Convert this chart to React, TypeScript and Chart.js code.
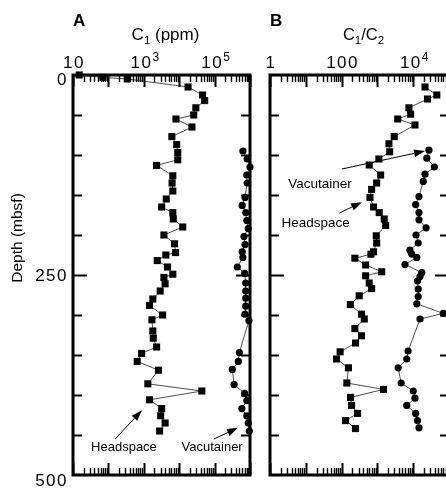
import React, { useEffect, useRef } from "react";
import { Chart, registerables } from "chart.js";

Chart.register(...registerables);

const FONT = '"Liberation Sans", Arial, Helvetica, sans-serif';

// ---------- Panel A : C1 (ppm) ----------
const aHeadDepth = [0, 3, 5, 15, 25, 32, 41, 50, 55, 65, 77, 87, 97, 106, 113, 126, 135, 145, 155, 165, 172, 180, 190, 200, 211, 222, 225, 232, 240, 249, 253, 261, 270, 280, 288, 300, 306, 320, 329, 340, 348, 358, 369, 386, 395, 406, 417, 426, 435, 445];
const aHeadC1 = [15, 70, 340, 17800, 45700, 52500, 29500, 25700, 8100, 22900, 6200, 8500, 9100, 9100, 2300, 6600, 6300, 6600, 4300, 3200, 6600, 6800, 12600, 3700, 7400, 7900, 4200, 2400, 4700, 6600, 3700, 4000, 2900, 1800, 1450, 3400, 1700, 1800, 1850, 2300, 870, 650, 2600, 1300, 43600, 1450, 3200, 3000, 4000, 2800];

const aVacDepth = [95, 105, 115, 125, 135, 153, 163, 172, 182, 192, 202, 212, 221, 228, 240, 248, 260, 270, 279, 289, 299, 307, 347, 358, 368, 387, 398, 407, 417, 426, 435, 445];
const aVacC1 = [631000, 832000, 1000000, 813000, 832000, 724000, 603000, 759000, 813000, 891000, 676000, 724000, 603000, 631000, 437000, 708000, 759000, 759000, 759000, 759000, 724000, 933000, 501000, 468000, 316000, 355000, 708000, 813000, 589000, 813000, 891000, 955000];

// ---------- Panel B : C1/C2 ----------
const bHeadDepth = [15, 25, 30, 41, 49, 55, 62.5, 77, 86, 96, 105, 112.5, 125, 135, 143, 153, 165, 172, 180, 188, 201, 210, 221, 224, 229, 237.5, 246, 251, 260, 267, 276, 287, 299, 305, 317, 326, 335, 346, 355, 366, 385, 393, 403, 413, 423, 432, 442];
const bHeadRatio = [21400, 45700, 25100, 7600, 8500, 3700, 11200, 2950, 2100, 2200, 1100, 590, 1230, 955, 690, 620, 780, 1120, 1550, 1700, 930, 955, 780, 660, 235, 470, 1320, 470, 590, 690, 310, 175, 360, 430, 235, 360, 245, 91, 72, 155, 140, 1480, 178, 190, 280, 129, 245];

const bVacDepth = [94, 104, 115, 124, 133, 152, 162, 172, 181, 191, 200, 210, 219, 224, 228, 237, 247, 252, 257.5, 267.5, 277, 286, 298, 305, 345, 355, 366, 385, 395, 404, 413, 423, 432, 441];
const bVacRatio = [27500, 24000, 38900, 21400, 19100, 14500, 11700, 14500, 14500, 22900, 12000, 13800, 8100, 9100, 12600, 5900, 17400, 15500, 13200, 13800, 13800, 12600, 69200, 15500, 7200, 6600, 3800, 4600, 10000, 11200, 6600, 11700, 13200, 14500];

// ---------- Axis ticks / labels ----------
const depthTickValues = [0, 50, 100, 150, 200, 250, 300, 350, 400, 450, 500];
const depthLabelValues = [0, 250, 500];
const depthLabels = ["0", "250", "500"];
const aTickValues = [10, 1000, 100000];
const aTickLabels = ["10", "10^3", "10^5"];
const bTickValues = [1, 100, 10000];
const bTickLabels = ["1", "100", "10^4"];

// annotations in data coordinates: [value, depth]
const aNotes = [
  { text: "Headspace", at: [275, 466], from: [155, 455], to: [890, 419] },
  { text: "Vacutainer", at: [85000, 466], from: [95000, 455], to: [457000, 441] },
];
const bNotes = [
  { text: "Vacutainer", at: [25, 136], from: [102, 117.5], to: [21400, 95] },
  { text: "Headspace", at: [18.7, 185], from: [87, 172.5], to: [372, 159] },
];

type Part = { t: string; size: number; dy: number; bold?: boolean; sp?: number };

function drawRich(ctx: CanvasRenderingContext2D, parts: Part[], x: number, y: number, align: string) {
  let total = 0;
  const widths: number[] = [];
  const c = ctx as any;
  for (const p of parts) {
    ctx.font = `${p.bold ? "bold " : ""}${p.size}px ${FONT}`;
    c.letterSpacing = `${p.sp || 0}px`;
    const w = ctx.measureText(p.t).width;
    widths.push(w);
    total += w;
  }
  let cx = align === "center" ? x - total / 2 : align === "right" ? x - total : x;
  ctx.textAlign = "left";
  ctx.textBaseline = "alphabetic";
  parts.forEach((p, i) => {
    ctx.font = `${p.bold ? "bold " : ""}${p.size}px ${FONT}`;
    c.letterSpacing = `${p.sp || 0}px`;
    ctx.fillText(p.t, cx, y + p.dy);
    cx += widths[i];
  });
  c.letterSpacing = "0px";
}

function tickParts(label: string): Part[] {
  const [base, exp] = label.split("^");
  const parts: Part[] = [{ t: base, size: 17, dy: 0, sp: 1.5 }];
  if (exp) parts.push({ t: exp, size: 12, dy: -7 });
  return parts;
}

function drawArrow(ctx: CanvasRenderingContext2D, x1: number, y1: number, x2: number, y2: number) {
  const ang = Math.atan2(y2 - y1, x2 - x1);
  const L = 11, W = 3.8;
  const bx = x2 - L * Math.cos(ang), by = y2 - L * Math.sin(ang);
  ctx.strokeStyle = "#000";
  ctx.lineWidth = 1;
  ctx.beginPath();
  ctx.moveTo(x1, y1);
  ctx.lineTo(bx, by);
  ctx.stroke();
  ctx.fillStyle = "#000";
  ctx.beginPath();
  ctx.moveTo(x2, y2);
  ctx.lineTo(bx + W * Math.sin(ang), by - W * Math.cos(ang));
  ctx.lineTo(bx - W * Math.sin(ang), by + W * Math.cos(ang));
  ctx.closePath();
  ctx.fill();
}

function makeFramePlugin(cfg: {
  letter: string;
  title: Part[];
  tickValues: number[];
  tickLabels: string[];
  showDepthLabels: boolean;
  notes: { text: string; at: number[]; from: number[]; to: number[] }[];
  noteSize: number;
}) {
  return {
    id: "frameAxes" + cfg.letter,
    beforeDatasetsDraw(chart: any) {
      const { ctx, chartArea } = chart;
      const { left, right, top, bottom } = chartArea;
      const xs = chart.scales.x, ys = chart.scales.y;
      ctx.save();
      ctx.strokeStyle = "#000";
      const eMin = Math.round(Math.log10(xs.min));
      const eMax = Math.round(Math.log10(xs.max));
      for (let e = eMin; e <= eMax; e++) {
        for (let m = 1; m <= 9; m++) {
          if (e === eMax && m > 1) break;
          const v = m * Math.pow(10, e);
          const px = Math.round(xs.getPixelForValue(v)) + 0.5;
          const major = m === 1;
          const len = major ? 12 : 7;
          ctx.lineWidth = major ? 2 : 1.4;
          ctx.beginPath();
          ctx.moveTo(px, top);
          ctx.lineTo(px, top + len);
          ctx.moveTo(px, bottom);
          ctx.lineTo(px, bottom - len);
          ctx.stroke();
        }
      }
      for (const d of depthTickValues) {
        if (d === 0 || d === 500) continue;
        const py = Math.round(ys.getPixelForValue(d)) + 0.5;
        const len = d === 250 ? 14 : 9;
        ctx.lineWidth = 2;
        ctx.beginPath();
        ctx.moveTo(left, py);
        ctx.lineTo(left + len, py);
        ctx.moveTo(right, py);
        ctx.lineTo(right - len, py);
        ctx.stroke();
      }
      ctx.lineWidth = 3;
      ctx.strokeRect(left, top, right - left, bottom - top);
      ctx.restore();
    },
    afterDraw(chart: any) {
      const { ctx, chartArea } = chart;
      const { left, right, top } = chartArea;
      const xs = chart.scales.x, ys = chart.scales.y;
      ctx.save();
      ctx.fillStyle = "#000";
      drawRich(ctx, [{ t: cfg.letter, size: 17, dy: 0, bold: true }], left, 26, "left");
      drawRich(ctx, cfg.title, (left + right) / 2 + 4, 40, "center");
      cfg.tickValues.forEach((v, i) => {
        drawRich(ctx, tickParts(cfg.tickLabels[i]), xs.getPixelForValue(v) + 1, top - 7, "center");
      });
      if (cfg.showDepthLabels) {
        depthLabelValues.forEach((d, i) => {
          const py = ys.getPixelForValue(d);
          const off = d === 0 ? 4 : d === 500 ? 5 : 0;
          drawRich(ctx, [{ t: depthLabels[i], size: 17, dy: 0, sp: 1.5 }], left - 5, py + off + 6, "right");
        });
        ctx.save();
        ctx.translate(18, 238);
        ctx.rotate(-Math.PI / 2);
        ctx.font = `15.5px ${FONT}`;
        ctx.textAlign = "center";
        ctx.textBaseline = "middle";
        ctx.fillText("Depth (mbsf)", 0, 0);
        ctx.restore();
      }
      for (const n of cfg.notes) {
        ctx.font = `${cfg.noteSize}px ${FONT}`;
        ctx.textAlign = "center";
        ctx.textBaseline = "middle";
        ctx.fillStyle = "#000";
        ctx.fillText(n.text, xs.getPixelForValue(n.at[0]), ys.getPixelForValue(n.at[1]));
        drawArrow(
          ctx,
          xs.getPixelForValue(n.from[0]), ys.getPixelForValue(n.from[1]),
          xs.getPixelForValue(n.to[0]), ys.getPixelForValue(n.to[1])
        );
      }
      ctx.restore();
    },
  };
}

function series(depth: number[], vals: number[], style: string, radius: number) {
  return {
    data: depth.map((d, i) => ({ x: vals[i], y: d })),
    showLine: true,
    borderColor: "#222",
    borderWidth: 0.8,
    pointStyle: style,
    pointRadius: radius,
    pointBackgroundColor: "#000",
    pointBorderColor: "#000",
    pointBorderWidth: 0,
    clip: false,
    tension: 0,
  };
}

function makeChart(canvas: HTMLCanvasElement, opts: any) {
  return new Chart(canvas, {
    type: "scatter",
    data: { datasets: opts.datasets },
    options: {
      animation: false,
      responsive: false,
      devicePixelRatio: 1,
      events: [],
      layout: { padding: opts.padding },
      plugins: { legend: { display: false }, tooltip: { enabled: false }, title: { display: false } },
      scales: {
        x: { type: "logarithmic", min: opts.xMin, max: opts.xMax, display: false },
        y: { type: "linear", min: 0, max: 500, reverse: true, display: false },
      },
    } as any,
    plugins: [opts.plugin],
  } as any);
}

export default function App() {
  const refA = useRef<HTMLCanvasElement>(null);
  const refB = useRef<HTMLCanvasElement>(null);

  useEffect(() => {
    const chartA = makeChart(refA.current!, {
      datasets: [series(aHeadDepth, aHeadC1, "rect", 5), series(aVacDepth, aVacC1, "circle", 3.6)],
      padding: { left: 73, right: 12, top: 75, bottom: 15 },
      xMin: 10,
      xMax: 1e6,
      plugin: makeFramePlugin({
        letter: "A",
        title: [
          { t: "C", size: 17, dy: 0 },
          { t: "1", size: 11.5, dy: 4 },
          { t: " (ppm)", size: 17, dy: 0 },
        ],
        tickValues: aTickValues,
        tickLabels: aTickLabels,
        showDepthLabels: true,
        notes: aNotes,
        noteSize: 13,
      }),
    });
    const chartB = makeChart(refB.current!, {
      datasets: [series(bHeadDepth, bHeadRatio, "rect", 5), series(bVacDepth, bVacRatio, "circle", 3.6)],
      padding: { left: 8, right: 13, top: 75, bottom: 15 },
      xMin: 1,
      xMax: 1e5,
      plugin: makeFramePlugin({
        letter: "B",
        title: [
          { t: "C", size: 16.5, dy: 0 },
          { t: "1", size: 11.5, dy: 4 },
          { t: "/C", size: 16.5, dy: 0 },
          { t: "2", size: 11.5, dy: 4 },
        ],
        tickValues: bTickValues,
        tickLabels: bTickLabels,
        showDepthLabels: false,
        notes: bNotes,
        noteSize: 13.5,
      }),
    });
    return () => {
      chartA.destroy();
      chartB.destroy();
    };
  }, []);

  return (
    <div style={{ position: "fixed", left: 0, top: 0, width: 446, height: 490, overflow: "hidden", background: "#fff" }}>
      <canvas ref={refA} width={262} height={490} style={{ position: "absolute", left: 0, top: 0, width: 262, height: 490 }} />
      <canvas ref={refB} width={200} height={490} style={{ position: "absolute", left: 262, top: 0, width: 200, height: 490 }} />
    </div>
  );
}
